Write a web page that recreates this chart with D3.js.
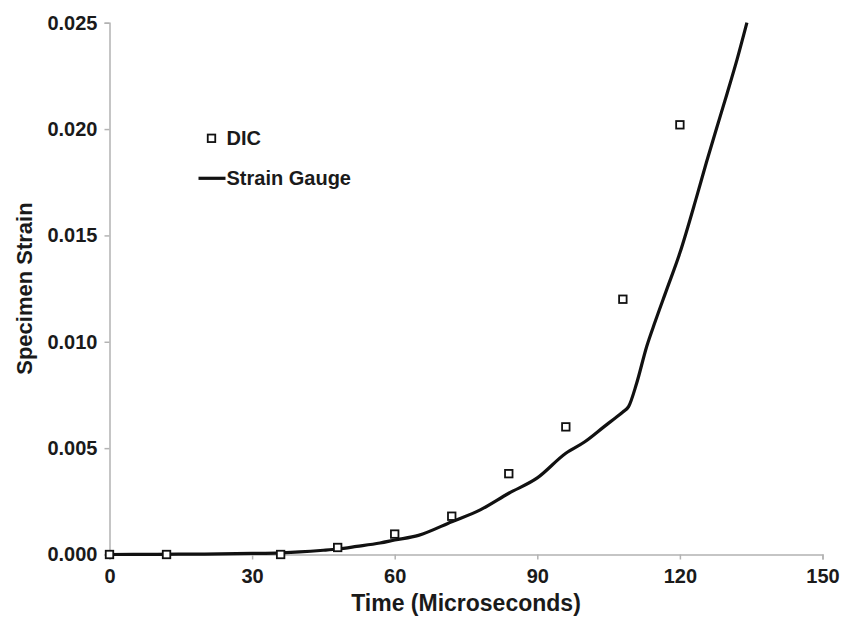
<!DOCTYPE html>
<html>
<head>
<meta charset="utf-8">
<script src="https://cdn.jsdelivr.net/npm/d3@7/dist/d3.min.js"></script>
<style>
  html, body { margin: 0; padding: 0; background: #fff; }
  svg { display: block; }
  text { font-family: "Liberation Sans", Arial, Helvetica, sans-serif; font-weight: bold; fill: #1a1a1a; }
</style>
</head>
<body>
<svg id="chart" width="856" height="617"></svg>
<script>
// DIC measurements (time in microseconds, strain)
const dicTime   = [0, 12, 36, 48, 60, 72, 84, 96, 108, 120];
const dicStrain = [0, 0, 0, 0.00033, 0.00096, 0.0018, 0.0038, 0.0060, 0.0120, 0.0202];

// Strain gauge trace
const gaugeTime   = [0, 10, 20, 30, 36, 40, 45, 48, 52, 56.9, 60, 65, 72, 78, 84, 90, 96, 100, 104, 106, 108, 109.2, 110.9, 113, 114.8, 117.2, 120, 123.5, 125.6, 127.8, 129.9, 132, 134.1];
const gaugeStrain = [0, 0.00001, 0.00002, 0.00005, 0.00008, 0.00012, 0.0002, 0.00026, 0.00038, 0.00054, 0.00068, 0.0009, 0.00154, 0.0021, 0.00288, 0.0036, 0.00476, 0.0053, 0.0060, 0.00635, 0.0067, 0.00695, 0.00805, 0.00977, 0.01095, 0.01244, 0.01418, 0.0168, 0.01845, 0.0201, 0.02165, 0.02325, 0.025];

const xTicks = [0, 30, 60, 90, 120, 150];
const yTicks = [0, 0.005, 0.010, 0.015, 0.020, 0.025];

const svg = d3.select("#chart");
const margin = { left: 109.5, right: 33.5, top: 22.7, bottom: 62.5 };
const W = 856, H = 617;

const x = d3.scaleLinear().domain([0, 150]).range([margin.left, W - margin.right]);
const y = d3.scaleLinear().domain([0, 0.025]).range([H - margin.bottom, margin.top]);

const axisColor = "#b3b3b3";

// x axis
const gx = svg.append("g")
  .attr("transform", `translate(0,${y(0)})`)
  .call(d3.axisBottom(x).tickValues(xTicks).tickFormat(d3.format("d")).tickSize(5).tickPadding(9));
gx.select(".domain").attr("stroke", axisColor).attr("stroke-width", 1.5);
gx.selectAll(".tick line").attr("stroke", axisColor).attr("stroke-width", 1.5);
gx.selectAll(".tick text").attr("font-size", 20).attr("font-family", null).style("fill", "#1a1a1a");

// y axis
const gy = svg.append("g")
  .attr("transform", `translate(${x(0)},0)`)
  .call(d3.axisLeft(y).tickValues(yTicks).tickFormat(d3.format(".3f")).tickSize(5).tickPadding(7));
gy.select(".domain").attr("stroke", axisColor).attr("stroke-width", 1.5);
gy.selectAll(".tick line").attr("stroke", axisColor).attr("stroke-width", 1.5);
gy.selectAll(".tick text").attr("font-size", 20).attr("font-family", null).style("fill", "#1a1a1a");

// axis titles
svg.append("text")
  .attr("x", (x(0) + x(150)) / 2)
  .attr("y", 611)
  .attr("text-anchor", "middle")
  .attr("font-size", 23)
  .text("Time (Microseconds)");

svg.append("text")
  .attr("transform", `translate(32,${(y(0) + y(0.025)) / 2}) rotate(-90)`)
  .attr("text-anchor", "middle")
  .attr("font-size", 22)
  .text("Specimen Strain");

// clip to plot area
svg.append("clipPath").attr("id", "plot-clip")
  .append("rect")
  .attr("x", x(0)).attr("y", y(0.025) - 2)
  .attr("width", x(150) - x(0)).attr("height", y(0) - y(0.025) + 4);

// strain gauge line
const gauge = gaugeTime.map((t, i) => [t, gaugeStrain[i]]);
svg.append("path")
  .datum(gauge)
  .attr("clip-path", "url(#plot-clip)")
  .attr("fill", "none")
  .attr("stroke", "#111")
  .attr("stroke-width", 3.2)
  .attr("stroke-linejoin", "round")
  .attr("d", d3.line().x(d => x(d[0])).y(d => y(d[1])).curve(d3.curveMonotoneX));

// DIC markers
const dic = dicTime.map((t, i) => [t, dicStrain[i]]);
const ms = 7.5;
svg.append("g").selectAll("rect")
  .data(dic)
  .join("rect")
  .attr("x", d => x(d[0]) - ms / 2)
  .attr("y", d => y(d[1]) - ms / 2)
  .attr("width", ms).attr("height", ms)
  .attr("fill", "#fff")
  .attr("stroke", "#111")
  .attr("stroke-width", 1.8);

// legend
const lg = svg.append("g");
lg.append("rect")
  .attr("x", 211.5 - ms / 2).attr("y", 138.3 - ms / 2)
  .attr("width", ms).attr("height", ms)
  .attr("fill", "#fff").attr("stroke", "#111").attr("stroke-width", 1.8);
lg.append("text").attr("x", 226.5).attr("y", 145).attr("font-size", 20).text("DIC");
lg.append("line")
  .attr("x1", 198.5).attr("x2", 225.5).attr("y1", 178.3).attr("y2", 178.3)
  .attr("stroke", "#111").attr("stroke-width", 3.2);
lg.append("text").attr("x", 226.5).attr("y", 185).attr("font-size", 20).text("Strain Gauge");
</script>
</body>
</html>
